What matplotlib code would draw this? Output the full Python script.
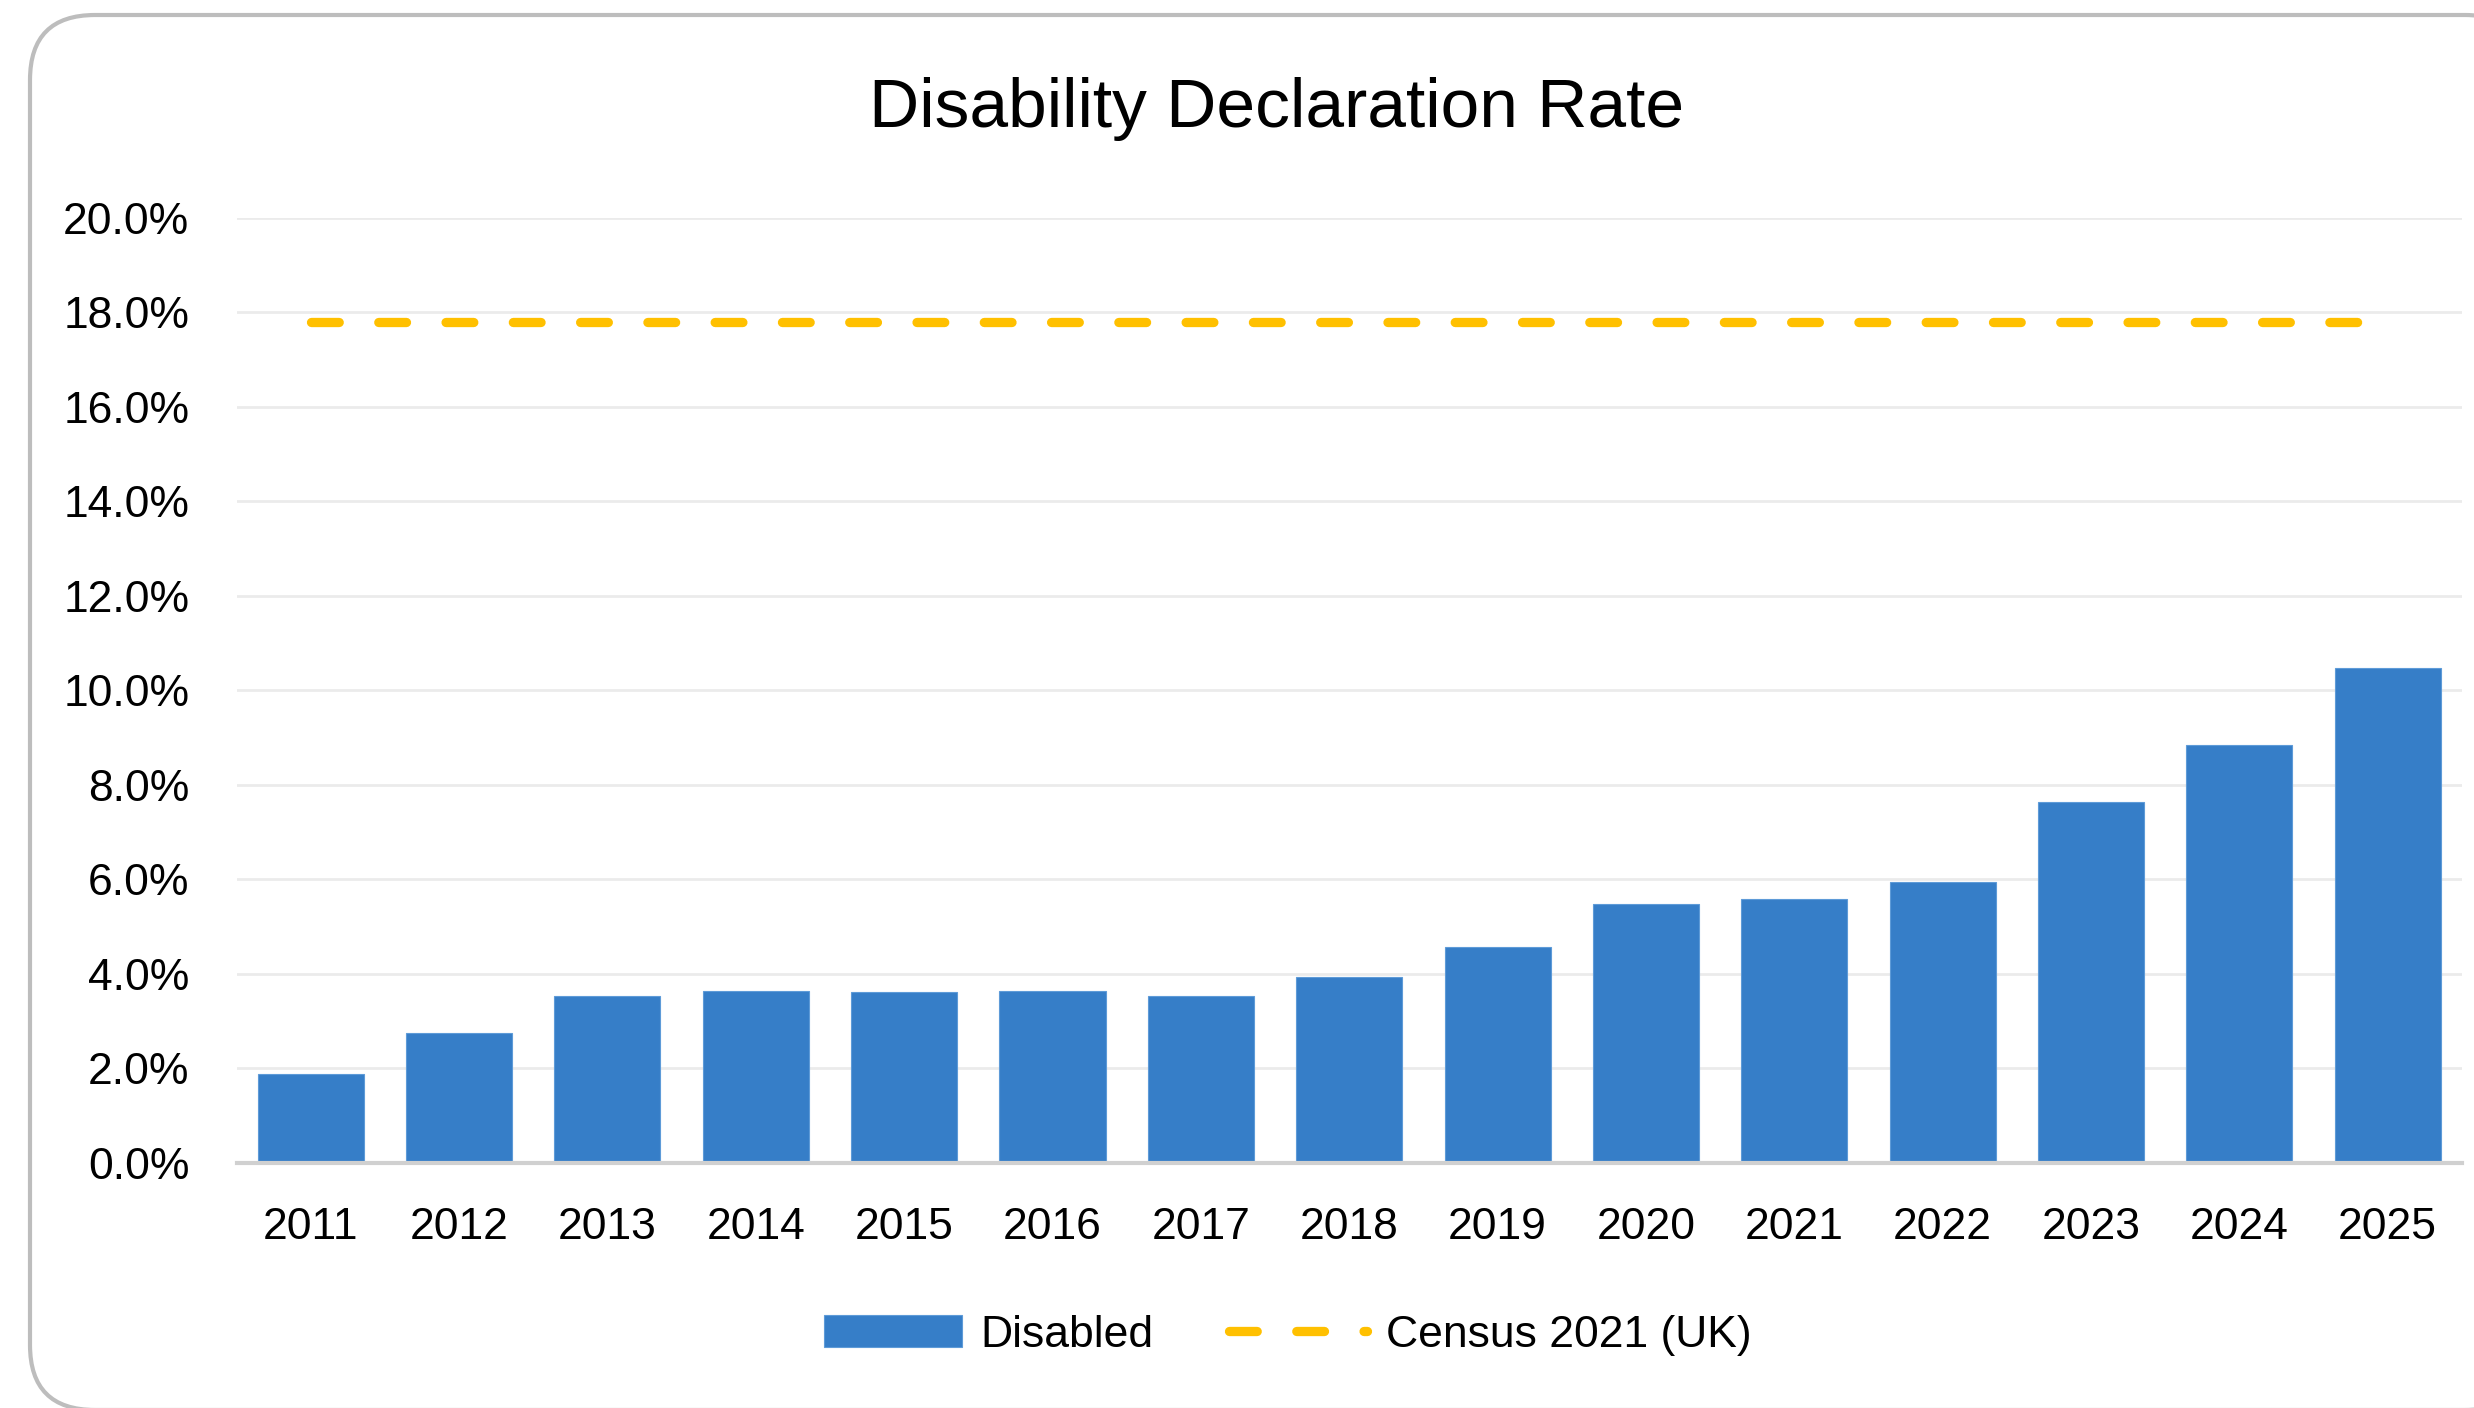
import matplotlib

matplotlib.use("Agg")
import matplotlib.pyplot as plt
import matplotlib.transforms as mtransforms
from matplotlib.patches import FancyBboxPatch
from matplotlib.ticker import FuncFormatter, MultipleLocator
import numpy as np

YEARS = ["2011", "2012", "2013", "2014", "2015", "2016", "2017", "2018",
         "2019", "2020", "2021", "2022", "2023", "2024", "2025"]
DISABLED_PCT = [1.88, 2.74, 3.53, 3.64, 3.61, 3.64, 3.53, 3.92,
                4.57, 5.47, 5.59, 5.94, 7.64, 8.83, 10.48]
CENSUS_2021_PCT = 17.8

BAR_COLOR = "#367EC8"
LINE_COLOR = "#FFC000"
FONT = ["Liberation Sans Narrow", "Liberation Sans", "DejaVu Sans"]
LABEL_SIZE = 32

W, H, DPI = 2474, 1408, 100
plt.rcParams["font.family"] = FONT

fig = plt.figure(figsize=(W / DPI, H / DPI), dpi=DPI)

# rounded card frame, drawn in pixel coordinates behind everything
card = FancyBboxPatch(
    (30, -2), 2500, H - 13,
    boxstyle="round,pad=0,rounding_size=65",
    transform=mtransforms.IdentityTransform(),
    facecolor="white", edgecolor="#BDBDBD", linewidth=3, zorder=-5,
)
fig.patches.append(card)

ax = fig.add_axes([0.0956, 0.1742, 0.8995, 0.6712])
ax.set_facecolor("none")

x = np.arange(len(YEARS))
bars = ax.bar(x, DISABLED_PCT, width=0.715, color=BAR_COLOR,
              edgecolor="#5E9BD8", linewidth=0.8, label="Disabled", zorder=2)
(census,) = ax.plot(x, [CENSUS_2021_PCT] * len(x), color=LINE_COLOR,
                    linewidth=6.7, linestyle=(0, (2.98, 4.25)),
                    dash_capstyle="round", label="Census 2021 (UK)", zorder=3)

ax.set_xlim(-0.5, len(YEARS) - 0.5)
ax.set_ylim(0, 20)
ax.yaxis.set_major_locator(MultipleLocator(2))
ax.yaxis.set_major_formatter(FuncFormatter(lambda v, _: f"{v:.1f}%"))
ax.set_xticks(x)
ax.set_xticklabels(YEARS)

ax.grid(axis="y", color="#EBEBEB", linewidth=2)
ax.set_axisbelow(True)
for side in ("top", "right", "left"):
    ax.spines[side].set_visible(False)
ax.spines["bottom"].set_color("#D0D0D0")
ax.spines["bottom"].set_linewidth(3)
ax.tick_params(axis="both", length=0, labelsize=LABEL_SIZE, colors="black")
ax.tick_params(axis="y", pad=34)
ax.tick_params(axis="x", pad=32)

fig.text(0.5158, 0.9098, "Disability Declaration Rate", ha="center",
         va="baseline", fontsize=50, color="black")

fig.legend(handles=[bars, census], loc="center",
           bbox_to_anchor=(0.5205, 0.0518), ncol=2, frameon=False,
           fontsize=LABEL_SIZE, handlelength=3.1, handletextpad=0.42,
           columnspacing=1.7)

fig.savefig("out.png", dpi=DPI)
